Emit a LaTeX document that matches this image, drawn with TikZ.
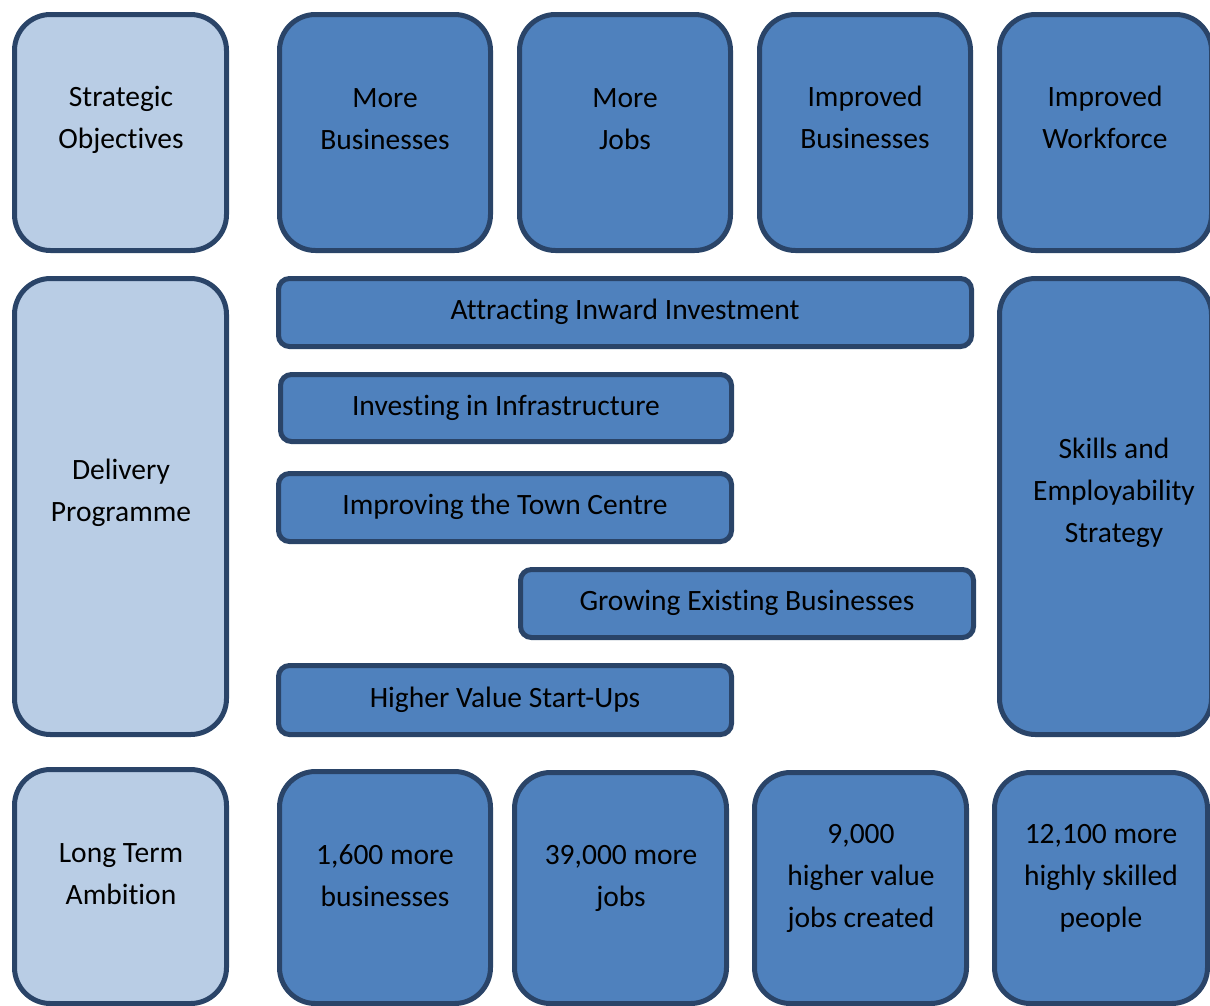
\documentclass[tikz,border=0pt]{standalone}
\usepackage{fontspec}
\setmainfont{Carlito}[Ligatures=NoCommon]
\definecolor{pale}{HTML}{B9CDE5}
\definecolor{mid}{HTML}{4F81BD}
\definecolor{edge}{HTML}{2A4468}
\begin{document}
\begin{tikzpicture}[x=1pt,y=-1pt,
  panel/.style={draw=edge, line width=5pt, rounded corners=36pt, inner sep=0pt, outer sep=0pt},
  headpanel/.style={panel, fill=pale},
  goalpanel/.style={panel, fill=mid},
  bar/.style={draw=edge, line width=5pt, rounded corners=11pt, fill=mid, inner sep=0pt, outer sep=0pt},
  caption/.style={font=\fontsize{29.5}{42}\selectfont, align=center, text=black, inner sep=0pt}]
\useasboundingbox (0,0) rectangle (1210,1005);
\clip (0,0) rectangle (1210,1005);

% top row: strategic objectives
\node[headpanel, minimum width=212pt, minimum height=236pt] (so) at (120.5,132.5) {};
\node[goalpanel, minimum width=211pt, minimum height=236pt] (mb) at (385,132.5) {};
\node[goalpanel, minimum width=211pt, minimum height=236pt] (mj) at (625,132.5) {};
\node[goalpanel, minimum width=211pt, minimum height=236pt] (ib) at (865,132.5) {};
\node[goalpanel, minimum width=212pt, minimum height=236pt] (iw) at (1105.5,132.5) {};
\node[caption] (soT) at (121,119.5) {Strategic\\Objectives};
\node[caption] (mbT) at (385,119) {More\\Businesses};
\node[caption] (mjT) at (625,119) {More\\Jobs};
\node[caption] (ibT) at (865,117.5) {Improved\\Businesses};
\node[caption] (iwT) at (1105,117.5) {Improved\\Workforce};

% middle row: delivery programme
\node[headpanel, minimum width=212pt, minimum height=456pt] (dp) at (120.5,506.5) {};
\node[bar, minimum width=693pt, minimum height=68pt] (aii) at (625,312.5) {};
\node[bar, minimum width=451pt, minimum height=67pt] (iii) at (506,408) {};
\node[bar, minimum width=453pt, minimum height=68pt] (itc) at (505,507.5) {};
\node[bar, minimum width=453pt, minimum height=68pt] (geb) at (747,603.5) {};
\node[bar, minimum width=453pt, minimum height=69pt] (hvs) at (505,700) {};
\node[goalpanel, minimum width=212pt, minimum height=456pt] (ses) at (1105.5,506.5) {};
\node[caption] (dpT) at (121,493) {Delivery\\Programme};
\node[caption] (aiiT) at (625,312) {Attracting Inward Investment};
\node[caption] (iiiT) at (506,408) {Investing in Infrastructure};
\node[caption] (itcT) at (505,507) {Improving the Town Centre};
\node[caption] (gebT) at (747,603) {Growing Existing Businesses};
\node[caption] (hvsT) at (505,700) {Higher Value Start-Ups};
\node[caption] (sesT) at (1114,493) {Skills and\\Employability\\Strategy};

% bottom row: long term ambition
\node[headpanel, minimum width=212pt, minimum height=234pt] (lta) at (120.5,886.5) {};
\node[goalpanel, minimum width=211pt, minimum height=232pt] (a1) at (385,887.5) {};
\node[goalpanel, minimum width=212pt, minimum height=231pt] (a2) at (620.5,888) {};
\node[goalpanel, minimum width=212pt, minimum height=231pt] (a3) at (860.5,888) {};
\node[goalpanel, minimum width=213pt, minimum height=231pt] (a4) at (1101,888) {};
\node[caption] (ltaT) at (121,874) {Long Term\\Ambition};
\node[caption] (a1T) at (385,876) {1,600 more\\businesses};
\node[caption] (a2T) at (621,878) {39,000 more\\jobs};
\node[caption] (a3T) at (861,878) {9,000\\higher value\\jobs created};
\node[caption] (a4T) at (1101,878) {12,100 more\\highly skilled\\people};
\end{tikzpicture}
\end{document}
